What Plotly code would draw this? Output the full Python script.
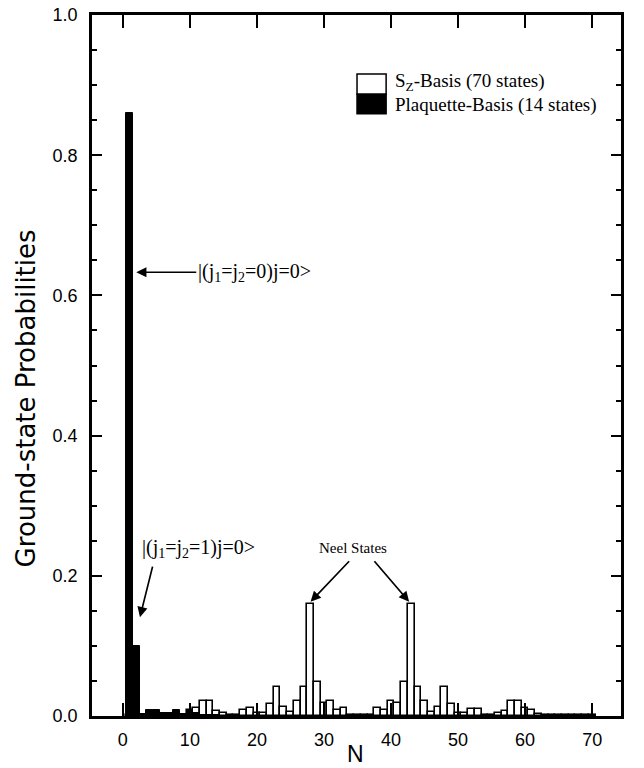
import plotly.graph_objects as go

# Sz-basis (70 states), N = 1..70
sz_states = list(range(1, 71))
sz_prob = [
    0.001, 0.001, 0.001, 0.002, 0.001, 0.002, 0.001, 0.003, 0.002, 0.008,
    0.011, 0.021, 0.021, 0.007, 0.004, 0.002, 0.002, 0.008, 0.011, 0.005,
    0.005, 0.017, 0.041, 0.013, 0.006, 0.021, 0.041, 0.160, 0.048, 0.018,
    0.021, 0.008, 0.011, 0.002, 0.002, 0.002, 0.002, 0.011, 0.008, 0.021,
    0.018, 0.048, 0.160, 0.041, 0.021, 0.006, 0.013, 0.041, 0.017, 0.005,
    0.005, 0.010, 0.010, 0.002, 0.002, 0.004, 0.007, 0.021, 0.021, 0.011,
    0.008, 0.003, 0.002, 0.002, 0.001, 0.002, 0.001, 0.001, 0.001, 0.001,
]

# Plaquette basis (14 states), N = 1..14
pl_states = list(range(1, 15))
pl_prob = [0.86, 0.10, 0.003, 0.009, 0.009, 0.004, 0.005, 0.009, 0.003, 0.007,
           0.004, 0.002, 0.002, 0.001]

x_ticks = [0, 10, 20, 30, 40, 50, 60, 70]
y_ticks = [0.0, 0.2, 0.4, 0.6, 0.8, 1.0]
y_tick_labels = ["0.0", "0.2", "0.4", "0.6", "0.8", "1.0"]

fig = go.Figure()
fig.add_trace(go.Bar(
    x=sz_states, y=sz_prob, width=1.0,
    marker=dict(color="white", line=dict(color="black", width=1.6)),
    showlegend=False,
))
fig.add_trace(go.Bar(
    x=pl_states, y=pl_prob, width=1.0,
    marker=dict(color="black", line=dict(color="black", width=1.0)),
    showlegend=False,
))

sans = "Liberation Sans, Arial, Helvetica"
axis_common = dict(
    showline=True, linecolor="black", linewidth=2.5, mirror="ticks",
    ticks="inside", tickcolor="black", showgrid=False, zeroline=False,
    automargin=False,
    tickfont=dict(family=sans, size=18, color="black"),
)

fig.update_xaxes(
    range=[-4.6, 74.3], tickvals=x_ticks, ticklen=13, tickwidth=2,
    ticklabelstandoff=6,
    **axis_common,
)
fig.update_yaxes(
    range=[0, 1.0], tickvals=y_ticks, ticktext=y_tick_labels, ticklen=10, tickwidth=2,
    ticklabelstandoff=8,
    minor=dict(dtick=0.05, ticklen=5, ticks="inside", tickcolor="black", tickwidth=1.5),
    **axis_common,
)

serif_family = "Liberation Serif, Times New Roman"
serif = dict(family=serif_family, size=20, color="black")
legend_font = dict(family=serif_family, size=19, color="black")
arrow = dict(showarrow=True, arrowhead=2, arrowsize=1.2, arrowwidth=1.7, arrowcolor="black")

# custom legend patch
shapes = [
    dict(type="rect", xref="paper", yref="paper", x0=0.501, x1=0.556, y0=0.887, y1=0.916,
         fillcolor="white", line=dict(color="black", width=1.5)),
    dict(type="rect", xref="paper", yref="paper", x0=0.501, x1=0.556, y0=0.859, y1=0.887,
         fillcolor="black", line=dict(color="black", width=1.5)),
]
annotations = [
    # axis titles
    dict(xref="paper", yref="paper", x=-0.123, y=0.453, xanchor="center", yanchor="middle",
         text="Ground-state Probabilities", textangle=-90, showarrow=False,
         font=dict(family="DejaVu Sans, " + sans, size=26, color="black")),
    dict(xref="paper", yref="paper", x=0.499, y=-0.0545, xanchor="center", yanchor="middle",
         text="N", showarrow=False, font=dict(family=sans, size=23, color="black")),
    # legend texts
    dict(xref="paper", yref="paper", x=0.569, y=0.905, xanchor="left", yanchor="middle",
         text="S<sub>Z</sub>-Basis (70 states)", showarrow=False, font=legend_font),
    dict(xref="paper", yref="paper", x=0.569, y=0.872, xanchor="left", yanchor="middle",
         text="Plaquette-Basis (14 states)", showarrow=False, font=legend_font),
    # state labels
    dict(x=2.0, y=0.633, xref="x", yref="y", ax=60, ay=0,
         text="|(j<sub>1</sub>=j<sub>2</sub>=0)j=0&gt;", xanchor="left", yanchor="middle",
         font=serif, standoff=0, **arrow),
    dict(x=2.55, y=0.141, xref="x", yref="y", ax=13, ay=-52, text="", **arrow),
    dict(xref="x", yref="y", x=2.5, y=0.2395, xanchor="left", yanchor="middle",
         text="|(j<sub>1</sub>=j<sub>2</sub>=1)j=0&gt;", showarrow=False, font=serif),
    dict(xref="x", yref="y", x=34.3, y=0.2395, xanchor="center", yanchor="middle",
         text="Neel States", showarrow=False,
         font=dict(family=serif_family, size=15, color="black")),
    dict(x=28.0, y=0.163, xref="x", yref="y", ax=40, ay=-42, text="", **arrow),
    dict(x=42.7, y=0.163, xref="x", yref="y", ax=-36, ay=-42, text="", **arrow),
]

fig.update_layout(
    width=644, height=768,
    margin=dict(l=92, r=23, t=15, b=52),
    paper_bgcolor="white", plot_bgcolor="white",
    barmode="overlay", bargap=0,
    shapes=shapes, annotations=annotations,
)

fig.write_html(
    "out.html",
    config={"displayModeBar": False},
    post_script="document.body.style.margin='0';document.body.style.overflow='hidden';",
)
